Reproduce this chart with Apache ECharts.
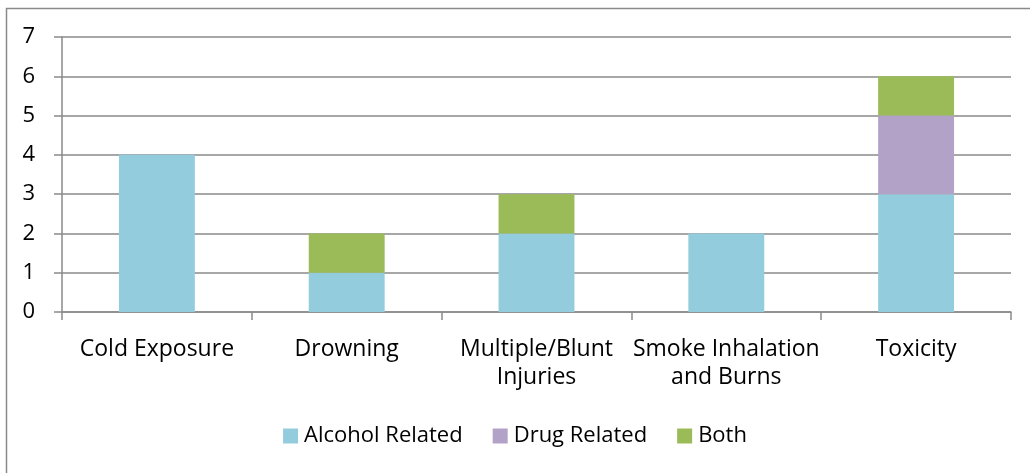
<!DOCTYPE html>
<html><head><meta charset="utf-8">
<script src="https://cdn.jsdelivr.net/npm/echarts@6/dist/echarts.min.js"></script>
<style>html,body{margin:0;padding:0;background:#fff}#c{width:1030px;height:473px}</style>
</head><body><div id="c"></div>
<script>
const categories = ["Cold Exposure", "Drowning", "Multiple/Blunt\nInjuries", "Smoke Inhalation\nand Burns", "Toxicity"];
const alcoholRelated = [4, 1, 2, 2, 3];
const drugRelated = [0, 0, 0, 0, 2];
const both = [0, 1, 1, 0, 1];
const seriesNames = ["Alcohol Related", "Drug Related", "Both"];
const colors = ["#93CDDD", "#B2A2C7", "#9BBB59"];
const FONT = "Open Sans";
const chart = echarts.init(document.getElementById('c'), null, {renderer: 'canvas'});
const mk = (name, data, i) => ({
  name, type: 'bar', stack: 's', data, barWidth: '40%',
  itemStyle: {color: colors[i]}, emphasis: {disabled: true}
});
chart.setOption({
  animation: false,
  textStyle: {fontFamily: FONT},
  graphic: [{type: 'rect', shape: {x: 6.5, y: 8.5, width: 1100, height: 600},
    style: {fill: 'none', stroke: '#8a8a8a', lineWidth: 1.5}, silent: true}],
  grid: {left: 62, right: 19, top: 37, bottom: 161, containLabel: false},
  legend: {top: 420, left: 'center', itemWidth: 15, itemHeight: 15, itemGap: 30,
    icon: 'rect', textStyle: {fontFamily: FONT, fontSize: 22, color: '#000', padding: [0,0,0,1]},
    data: seriesNames},
  xAxis: {type: 'category', data: categories,
    axisLine: {lineStyle: {color: '#8a8a8a', width: 1.5}},
    axisTick: {show: true, length: 8, lineStyle: {color: '#8a8a8a', width: 1.5}},
    axisLabel: {color: '#000', fontSize: 23, fontFamily: FONT, margin: 23, lineHeight: 28, interval: 0}},
  yAxis: {type: 'value', min: 0, max: 7, interval: 1,
    axisLine: {show: true, lineStyle: {color: '#8a8a8a', width: 1.5}},
    axisTick: {show: true, length: 8, lineStyle: {color: '#8a8a8a', width: 1.5}},
    splitLine: {lineStyle: {color: '#8a8a8a', width: 1.5}},
    axisLabel: {color: '#000', fontSize: 22, fontFamily: FONT, margin: 27}},
  series: [mk(seriesNames[0], alcoholRelated, 0), mk(seriesNames[1], drugRelated, 1), mk(seriesNames[2], both, 2)]
});
</script></body></html>
